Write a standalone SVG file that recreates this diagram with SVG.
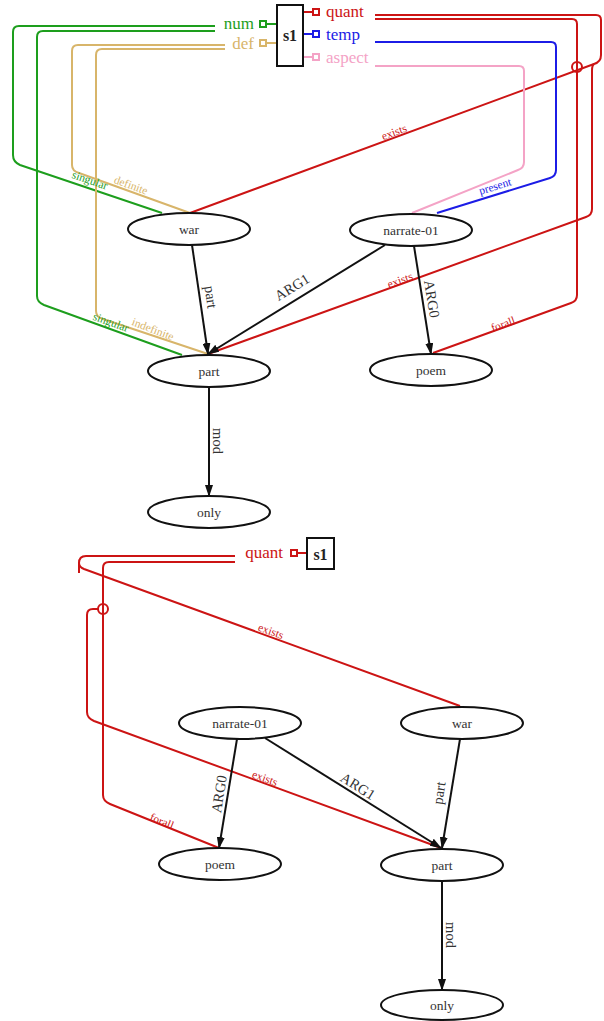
<svg xmlns="http://www.w3.org/2000/svg" width="604" height="1021" viewBox="0 0 604 1021">
<style>
  .node ellipse { fill: #fff; stroke: #111; stroke-width: 2; }
  .node text { font-family: "Liberation Serif", "DejaVu Serif", serif; font-size: 13.5px; fill: #333; text-anchor: middle; dominant-baseline: central; }
  .edge { fill: none; stroke: #111; stroke-width: 2; marker-end: url(#arrow); }
  .elab { font-family: "Liberation Serif", "DejaVu Serif", serif; font-size: 14.5px; fill: #333; text-anchor: middle; dominant-baseline: central; }
  .role { fill: none; stroke-width: 2; stroke-linejoin: round; }
  .rlab { font-family: "Liberation Serif", "DejaVu Serif", serif; font-size: 11.5px; text-anchor: middle; dominant-baseline: central; }
  .plab { font-family: "Liberation Serif", "DejaVu Serif", serif; font-size: 17px; dominant-baseline: central; }
  .box { fill: #fff; stroke: #111; stroke-width: 2; }
  .var { font-family: "Liberation Serif", "DejaVu Serif", serif; font-size: 16px; font-weight: bold; fill: #222; text-anchor: middle; dominant-baseline: central; }
  .port { fill: #fff; stroke-width: 2; }
  .red { stroke: #cc1414; } .redt { fill: #cc1414; }
  .green { stroke: #1d9e1d; } .greent { fill: #1d9e1d; }
  .tan { stroke: #d8b56a; } .tant { fill: #d8b56a; }
  .blue { stroke: #1c1ce6; } .bluet { fill: #1c1ce6; }
  .pink { stroke: #f4a3c6; } .pinkt { fill: #f4a3c6; }
</style>
<defs>
  <marker id="arrow" viewBox="0 0 12 8" refX="11" refY="4" markerWidth="12" markerHeight="8" markerUnits="userSpaceOnUse" orient="auto">
    <path d="M0,0 L12,4 L0,8 z" fill="#111"/>
  </marker>
</defs>

<!-- ===== Upper graph ===== -->
<g id="roles-top">
  <!-- quant -->
  <path class="role red" d="M375,15 H596 Q601,15 601,20 V55 Q601,62 594,64 L190,213"/>
  <path class="role red" d="M594,64 Q592,65 592,71 V209 Q592,215 586,217 L208,354"/>
  <path class="role red" d="M375,19 H572 Q577,19 577,24 V295 Q577,301 571,303 L433,353"/>
  <circle cx="577" cy="67" r="5" fill="none" stroke="#cc1414" stroke-width="2"/>
  <!-- temp -->
  <path class="role blue" d="M375,42 H551 Q556,42 556,47 V170 Q556,176 550,178 L437,213"/>
  <!-- aspect -->
  <path class="role pink" d="M375,66 H519 Q524,66 524,71 V162 Q524,168 518,170 L412,213"/>
  <!-- num -->
  <path class="role green" d="M215,26 H19 Q13,26 13,32 V155 Q13,162 20,165 L162,213"/>
  <path class="role green" d="M215,31 H43 Q37,31 37,37 V296 Q37,302 44,305 L182,355"/>
  <!-- def -->
  <path class="role tan" d="M225,45 H78 Q72,45 72,51 V165 Q72,171 79,173 L190,213"/>
  <path class="role tan" d="M225,49 H102 Q96,49 96,55 V311 Q96,317 103,319 L208,354"/>

  <text class="rlab redt" transform="translate(394,132) rotate(-20.5)">exists</text>
  <text class="rlab redt" transform="translate(400,280) rotate(-20)">exists</text>
  <text class="rlab redt" transform="translate(503,324) rotate(-20)">forall</text>
  <text class="rlab bluet" transform="translate(495,186) rotate(-17)">present</text>
  <text class="rlab greent" transform="translate(90,180) rotate(19)">singular</text>
  <text class="rlab tant" transform="translate(131,185) rotate(20)">definite</text>
  <text class="rlab greent" transform="translate(111,322) rotate(20)">singular</text>
  <text class="rlab tant" transform="translate(153,329) rotate(21)">indefinite</text>
</g>

<g id="edges-top">
  <line class="edge" x1="192" y1="245" x2="208" y2="354"/>
  <line class="edge" x1="385" y1="245" x2="208" y2="354"/>
  <line class="edge" x1="414" y1="246" x2="431" y2="354"/>
  <line class="edge" x1="209" y1="387" x2="209" y2="496"/>
  <text class="elab" transform="translate(211,297) rotate(81.6)">part</text>
  <text class="elab" transform="translate(292,287) rotate(-31.6)">ARG1</text>
  <text class="elab" transform="translate(432,299) rotate(81)">ARG0</text>
  <text class="elab" transform="translate(218,441) rotate(90)">mod</text>
</g>

<g id="s1-top">
  <line x1="266" y1="24" x2="277" y2="24" class="green" stroke-width="2"/>
  <line x1="266" y1="43" x2="277" y2="43" class="tan" stroke-width="2"/>
  <line x1="303" y1="12" x2="313" y2="12" class="red" stroke-width="2"/>
  <line x1="303" y1="34" x2="313" y2="34" class="blue" stroke-width="2"/>
  <line x1="303" y1="57" x2="313" y2="57" class="pink" stroke-width="2"/>
  <rect class="box" x="277" y="5" width="26" height="61"/>
  <text class="var" x="290" y="35">s1</text>
  <rect class="port green" x="260" y="21" width="6" height="6"/>
  <rect class="port tan" x="260" y="40" width="6" height="6"/>
  <rect class="port red" x="313" y="9" width="6" height="6"/>
  <rect class="port blue" x="313" y="31" width="6" height="6"/>
  <rect class="port pink" x="313" y="54" width="6" height="6"/>
  <text class="plab greent" x="254" y="23" text-anchor="end">num</text>
  <text class="plab tant" x="254" y="43" text-anchor="end">def</text>
  <text class="plab redt" x="326" y="11">quant</text>
  <text class="plab bluet" x="326" y="34">temp</text>
  <text class="plab pinkt" x="326" y="57">aspect</text>
</g>

<g id="war-top" class="node"><ellipse cx="189" cy="229" rx="61" ry="16"/><text x="189" y="229">war</text></g>
<g id="narrate-top" class="node"><ellipse cx="411" cy="230" rx="61" ry="16"/><text x="411" y="230">narrate-01</text></g>
<g id="part-top" class="node"><ellipse cx="209" cy="371" rx="61" ry="16"/><text x="209" y="371">part</text></g>
<g id="poem-top" class="node"><ellipse cx="431" cy="370" rx="61" ry="16"/><text x="431" y="370">poem</text></g>
<g id="only-top" class="node"><ellipse cx="209" cy="512" rx="61" ry="16"/><text x="209" y="512">only</text></g>

<!-- ===== Lower graph ===== -->
<g id="roles-bottom">
  <path class="role red" d="M235,556 H86 Q79,556 79,563 V573"/>
  <path class="role red" d="M79,563 Q79,567 84,569 L460,706"/>
  <path class="role red" d="M235,562 H109 Q103,562 103,568 V795 Q103,801 110,804 L219,848"/>
  <path class="role red" d="M98,609 H93 Q87,609 87,615 V712 Q87,718 94,721 L441,848"/>
  <circle cx="103" cy="609" r="5" fill="none" stroke="#cc1414" stroke-width="2"/>
  <text class="rlab redt" transform="translate(271,631) rotate(20)">exists</text>
  <text class="rlab redt" transform="translate(265,778) rotate(20)">exists</text>
  <text class="rlab redt" transform="translate(162,821) rotate(22)">forall</text>
</g>

<g id="edges-bottom">
  <line class="edge" x1="237" y1="739" x2="219" y2="848"/>
  <line class="edge" x1="265" y1="738" x2="441" y2="848"/>
  <line class="edge" x1="460" y1="739" x2="442" y2="848"/>
  <line class="edge" x1="442" y1="881" x2="442" y2="990"/>
  <text class="elab" transform="translate(219,794) rotate(-81)">ARG0</text>
  <text class="elab" transform="translate(358,786) rotate(32)">ARG1</text>
  <text class="elab" transform="translate(439,793) rotate(-81)">part</text>
  <text class="elab" transform="translate(451,935) rotate(90)">mod</text>
</g>

<g id="s1-bottom">
  <line x1="298" y1="553" x2="307" y2="553" class="red" stroke-width="2"/>
  <rect class="box" x="307" y="538" width="27" height="31"/>
  <text class="var" x="320.5" y="554">s1</text>
  <rect class="port red" x="291" y="550" width="6" height="6"/>
  <text class="plab redt" x="283" y="552" text-anchor="end">quant</text>
</g>

<g id="narrate-bottom" class="node"><ellipse cx="240" cy="723" rx="61" ry="16"/><text x="240" y="723">narrate-01</text></g>
<g id="war-bottom" class="node"><ellipse cx="462" cy="723" rx="61" ry="16"/><text x="462" y="723">war</text></g>
<g id="poem-bottom" class="node"><ellipse cx="220" cy="864" rx="61" ry="16"/><text x="220" y="864">poem</text></g>
<g id="part-bottom" class="node"><ellipse cx="442" cy="865" rx="61" ry="16"/><text x="442" y="865">part</text></g>
<g id="only-bottom" class="node"><ellipse cx="442" cy="1005" rx="61" ry="15"/><text x="442" y="1005">only</text></g>
</svg>
